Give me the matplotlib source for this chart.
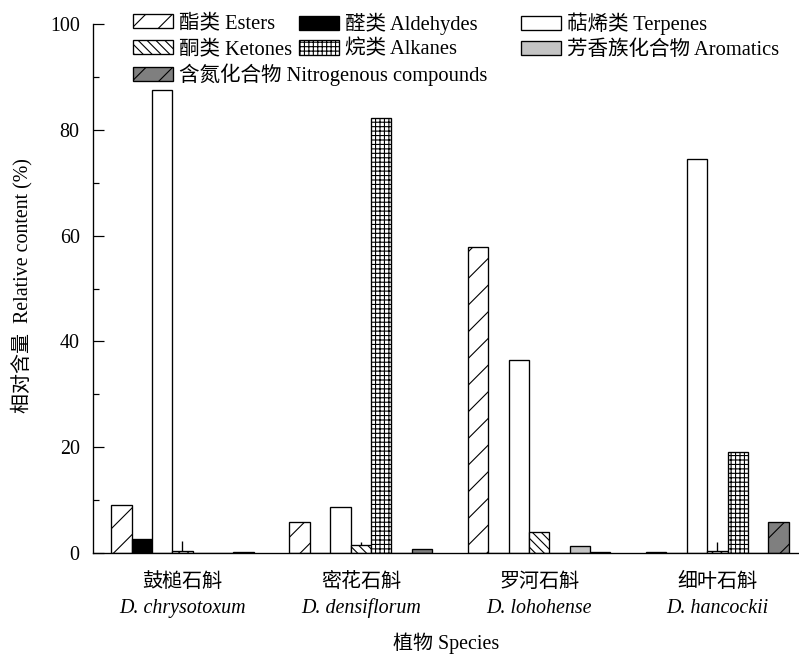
import matplotlib
matplotlib.use("Agg")
import matplotlib.pyplot as plt
import numpy as np
from matplotlib.patches import Patch

plt.rcParams["font.family"] = ["Liberation Serif", "Noto Sans CJK SC"]
plt.rcParams["hatch.linewidth"] = 1.0

species_cn = ["鼓槌石斛", "密花石斛", "罗河石斛", "细叶石斛"]
species_latin = ["D. chrysotoxum", "D. densiflorum", "D. lohohense", "D. hancockii"]

esters = [9.0, 5.8, 57.8, 0.2]
aldehydes = [2.7, 0.0, 0.0, 0.0]
terpenes = [87.5, 8.7, 36.5, 74.4]
ketones = [0.3, 1.6, 4.0, 0.4]
ketones_err = [1.9, 0.4, 0.0, 1.7]
alkanes = [0.0, 82.3, 0.0, 19.1]
aromatics = [0.0, 0.0, 1.4, 0.0]
nitrogenous = [0.1, 0.8, 0.1, 5.9]

labels = ["酯类 Esters", "醛类 Aldehydes", "萜烯类 Terpenes", "酮类 Ketones",
          "烷类 Alkanes", "芳香族化合物 Aromatics", "含氮化合物 Nitrogenous compounds"]
series = [esters, aldehydes, terpenes, ketones, alkanes, aromatics, nitrogenous]
colors = ["white", "black", "white", "white", "white", "#c4c4c4", "#7f7f7f"]
hatches = ["/", None, None, "\\\\\\", "+++", None, "/"]

# dpi 80 so the hatch spacing comes out close to the original
fig = plt.figure(figsize=(799 / 80, 654 / 80), dpi=80)
ax = fig.add_axes([93 / 799, 101 / 654, 706 / 799, 529 / 654])

x = np.arange(len(species_cn))
w = 0.8 / 7
handles = []
for i, (vals, lab) in enumerate(zip(series, labels)):
    pos = x - 0.4 + w * (i + 0.5)
    ax.bar(pos, vals, w, color=colors[i], edgecolor="black", hatch=hatches[i],
           linewidth=1.2)
    handles.append(Patch(facecolor=colors[i], edgecolor="black", hatch=hatches[i],
                         linewidth=1.2, label=lab))
    if lab.startswith("酮类"):
        ax.errorbar(pos, vals, yerr=[np.zeros(4), ketones_err], fmt="none",
                    ecolor="black", elinewidth=1.2, capsize=0)

ax.set_xlim(-0.502, 3.458)
ax.set_ylim(0, 100)
ax.set_yticks(range(0, 101, 20))
ax.set_yticks(range(10, 100, 20), minor=True)
ax.tick_params(axis="y", which="major", direction="in", length=10, width=1.1,
               labelsize=18, pad=12)
ax.tick_params(axis="y", which="minor", direction="in", length=5.5, width=1.1)
ax.set_xticks(x)
ax.set_xticklabels([])
ax.tick_params(axis="x", length=0)
for s in ["top", "right"]:
    ax.spines[s].set_visible(False)
for s in ["left", "bottom"]:
    ax.spines[s].set_linewidth(1.2)

tr = ax.get_xaxis_transform()
for xi, cn, lat in zip(x, species_cn, species_latin):
    ax.text(xi, -0.055, cn, transform=tr, ha="center", va="center", fontsize=18)
    ax.text(xi, -0.105, lat, transform=tr, ha="center", va="center", fontsize=18,
            style="italic")
ax.text(0.5, -0.17, "植物 Species", transform=ax.transAxes, ha="center",
        va="center", fontsize=18)
fig.text(22 / 799, 1 - 286 / 654, "相对含量  Relative content (%)", rotation=90,
         ha="center", va="center", fontsize=18)

# legend entries placed one by one: (entry, left px, row centre px)
legend_pos = [(0, 133, 24), (1, 299, 24), (2, 521, 24),
              (3, 133, 50), (4, 299, 50), (5, 521, 50),
              (6, 133, 75)]
for k, xpix, ypix in legend_pos:
    fig.legend([handles[k]], [labels[k]], loc="center left",
               bbox_to_anchor=(xpix / 799, 1 - ypix / 654),
               frameon=False, fontsize=18.5, handlelength=1.95,
               handleheight=0.68, handletextpad=0.3,
               borderpad=0, borderaxespad=0)

fig.savefig("out.png", dpi=80)
